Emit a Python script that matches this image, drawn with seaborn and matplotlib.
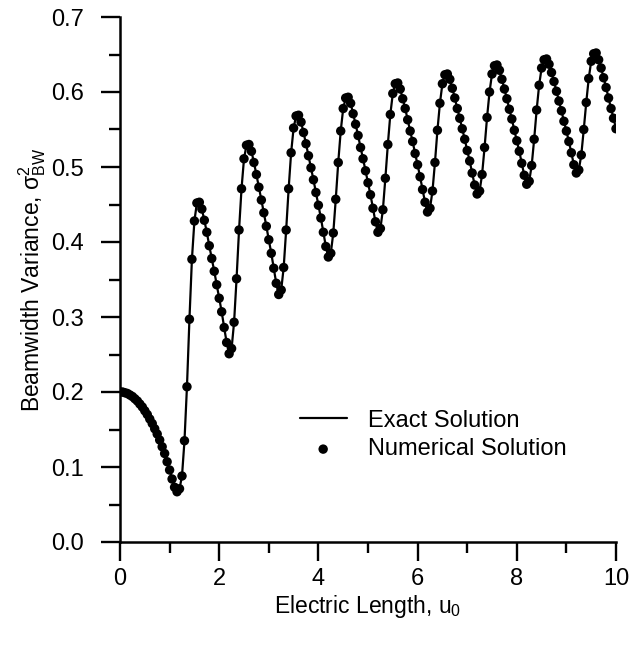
import numpy as np
import pandas as pd
import matplotlib
matplotlib.use("Agg")
import matplotlib.pyplot as plt
from matplotlib.ticker import MultipleLocator, FormatStrFormatter
import seaborn as sns

# Electric length samples (step 0.05 from 0 to 10)
u0 = np.linspace(0.0, 10.0, 201)

# Beamwidth variance at each sample
variance = [
    # 0.00 - 1.55
    0.200, 0.200, 0.199, 0.198, 0.196, 0.194, 0.191, 0.188, 0.184, 0.180,
    0.175, 0.170, 0.164, 0.158, 0.151, 0.144, 0.136, 0.127, 0.118, 0.107,
    0.096, 0.084, 0.073, 0.067, 0.071, 0.088, 0.135, 0.207, 0.297, 0.377,
    0.428, 0.452,
    # 1.60 - 2.55
    0.453, 0.444, 0.429, 0.413, 0.395, 0.378, 0.361, 0.343, 0.325, 0.307, 0.286, 0.266,
    0.251, 0.258, 0.293, 0.351, 0.416, 0.471, 0.511, 0.529,
    # 2.60 - 3.55
    0.530, 0.521, 0.506, 0.490, 0.473, 0.456, 0.439, 0.421, 0.403, 0.385, 0.365, 0.345,
    0.330, 0.336, 0.366, 0.416, 0.471, 0.519, 0.552, 0.568,
    # 3.60 - 4.55
    0.569, 0.560, 0.546, 0.531, 0.515, 0.499, 0.483, 0.466, 0.449, 0.432, 0.413, 0.394,
    0.380, 0.385, 0.412, 0.457, 0.506, 0.548, 0.578, 0.592,
    # 4.60 - 5.55
    0.593, 0.585, 0.571, 0.557, 0.542, 0.526, 0.511, 0.495, 0.479, 0.463, 0.445, 0.427,
    0.413, 0.418, 0.443, 0.485, 0.530, 0.570, 0.598, 0.611,
    # 5.60 - 6.55
    0.612, 0.604, 0.591, 0.578, 0.563, 0.548, 0.534, 0.518, 0.503, 0.487, 0.470, 0.453,
    0.440, 0.445, 0.468, 0.506, 0.549, 0.585, 0.611, 0.623,
    # 6.60 - 7.55
    0.624, 0.617, 0.605, 0.592, 0.578, 0.565, 0.551, 0.537, 0.522, 0.508, 0.492, 0.476,
    0.464, 0.468, 0.490, 0.526, 0.566, 0.600, 0.624, 0.635,
    # 7.60 - 8.55
    0.636, 0.629, 0.617, 0.604, 0.591, 0.577, 0.564, 0.549, 0.535, 0.521, 0.505, 0.489,
    0.477, 0.481, 0.502, 0.537, 0.576, 0.609, 0.632, 0.643,
    # 8.60 - 9.55
    0.644, 0.637, 0.626, 0.614, 0.601, 0.588, 0.575, 0.561, 0.548, 0.534, 0.519, 0.503,
    0.492, 0.496, 0.516, 0.550, 0.586, 0.618, 0.641, 0.651,
    # 9.60 - 10.00
    0.652, 0.643, 0.632, 0.619, 0.606, 0.592, 0.578, 0.565, 0.551,
]

series_labels = ["Exact Solution", "Numerical Solution"]
x_label = r"Electric Length, u$_{\mathrm{0}}$"
y_label = r"Beamwidth Variance, $\mathrm{σ}^{\mathrm{2}}_{\mathrm{BW}}$"

sns.set_theme(style="ticks")
plt.rcParams["font.family"] = ["Liberation Sans", "DejaVu Sans"]
plt.rcParams["mathtext.fontset"] = "custom"
plt.rcParams["mathtext.rm"] = "Liberation Sans"
plt.rcParams["mathtext.it"] = "Liberation Sans:italic"
plt.rcParams["mathtext.sf"] = "Liberation Sans"
plt.rcParams["text.color"] = "black"
plt.rcParams["axes.labelcolor"] = "black"

df = pd.DataFrame({"u0": u0, "variance": variance})

fig = plt.figure(figsize=(6.3, 6.48), dpi=100)
ax = fig.add_axes([120 / 630, 1 - 542 / 648, 496 / 630, 525 / 648])

sns.lineplot(data=df, x="u0", y="variance", ax=ax, color="black",
             linewidth=1.6, label=series_labels[0], zorder=2)
sns.scatterplot(data=df, x="u0", y="variance", ax=ax, color="black",
                s=46, edgecolor="none", label=series_labels[1], zorder=3)

ax.set_xlim(0, 10)
ax.set_ylim(0, 0.7)
ax.xaxis.set_major_locator(MultipleLocator(2))
ax.xaxis.set_minor_locator(MultipleLocator(1))
ax.yaxis.set_major_locator(MultipleLocator(0.1))
ax.yaxis.set_minor_locator(MultipleLocator(0.05))
ax.yaxis.set_major_formatter(FormatStrFormatter("%.1f"))

for side in ("top", "right"):
    ax.spines[side].set_visible(False)
for side in ("left", "bottom"):
    ax.spines[side].set_linewidth(1.8)
    ax.spines[side].set_color("black")

ax.tick_params(which="major", direction="out", length=14, width=1.7,
               color="black", labelsize=17, labelcolor="black")
ax.tick_params(which="minor", direction="out", length=8, width=1.7, color="black")
ax.tick_params(axis="x", which="major", pad=5)
ax.tick_params(axis="y", which="major", pad=12)

ax.set_xlabel(x_label, fontsize=16.5, labelpad=2)
ax.set_ylabel(y_label, fontsize=16.5, labelpad=2)

ax.legend(frameon=False, loc="upper left", bbox_to_anchor=(0.362, 0.252),
          fontsize=17, handlelength=2.0, handletextpad=0.9,
          labelspacing=0.28, borderpad=0, borderaxespad=0)

fig.savefig("out.png", dpi=100)
